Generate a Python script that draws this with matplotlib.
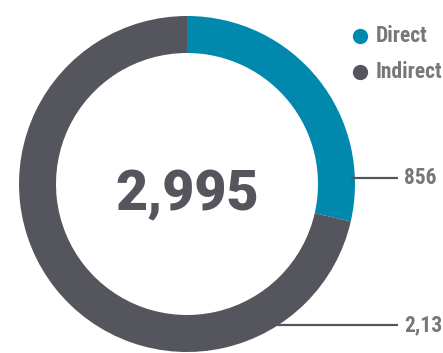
import matplotlib
matplotlib.use("Agg")
import matplotlib.pyplot as plt
import numpy as np
from matplotlib import font_manager as fm

categories = ["Direct", "Indirect"]
values = [856, 2139]
colors = ["#0088ad", "#55555e"]
value_labels = ["856", "2,139"]

total = sum(values)

# pick a narrow bold face for the small labels
installed_names = {f.name for f in fm.fontManager.ttflist}
label_font = dict(family="DejaVu Sans", fontstretch="condensed", fontsize=14)
for name in ["Roboto Condensed", "Liberation Sans Narrow", "Open Sans Condensed"]:
    if name in installed_names:
        label_font = dict(family=name, fontsize=15.5)
        break

# heavy face for the centre figure
roboto_weights = [f.weight for f in fm.fontManager.ttflist if f.name == "Roboto"]
if any(w in (900, "black", "heavy") or (isinstance(w, int) and w >= 800)
       for w in roboto_weights):
    total_font = dict(family="Roboto", fontweight=900, fontsize=40)
else:
    total_font = dict(family="Liberation Sans", fontweight="bold", fontsize=41)

W, H = 443, 353
fig = plt.figure(figsize=(W / 100, H / 100), dpi=100)
ax = fig.add_axes([0, 0, 1, 1])

cx, cy = 187, H - 184
r_out, ring = 168, 37

ax.pie(values, colors=colors, startangle=90, counterclock=False,
       center=(cx, cy), radius=r_out, frame=True,
       wedgeprops=dict(width=ring, edgecolor="none"))
ax.set_xlim(0, W)
ax.set_ylim(0, H)
ax.set_aspect("equal")
ax.axis("off")

label_color = "#77777a"

# centre total
ax.text(cx, cy - 11, f"{total:,}", ha="center", va="center",
        color="#55555e", **total_font)

# leader lines with value labels
label_y = [H - 178, H - 325]
line_end = 398
for val, txt, ly in zip(values, value_labels, label_y):
    dy = ly - cy
    x0 = cx + np.sqrt(max(r_out ** 2 - dy ** 2, 0)) - 4
    ax.plot([x0, line_end], [ly, ly], color="#55555e", lw=1.6,
            solid_capstyle="butt")
    ax.text(line_end + 6, ly, txt, ha="left", va="center",
            fontweight="bold", color=label_color, **label_font)

# legend
for i, (cat, c) in enumerate(zip(categories, colors)):
    y = H - (36 + 36 * i)
    ax.plot([360], [y], marker="o", markersize=11, color=c,
            markeredgecolor="none")
    ax.text(376, y, cat, ha="left", va="center",
            fontweight="bold", color=label_color, **label_font)

fig.savefig("out.png", dpi=100, facecolor="white")
